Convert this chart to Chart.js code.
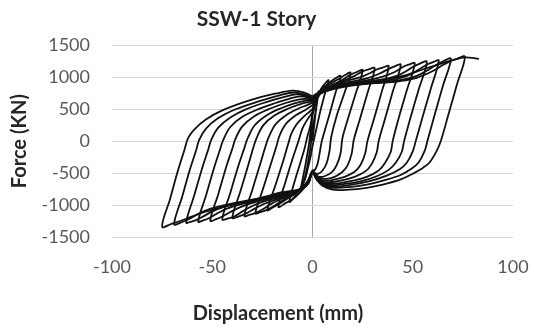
<!DOCTYPE html>
<html>
<head>
<meta charset="utf-8">
<script src="https://cdn.jsdelivr.net/npm/chart.js@4/dist/chart.umd.min.js"></script>
<style>
  html, body { margin: 0; padding: 0; background: #ffffff; }
  #wrap { width: 534px; height: 332px; }
</style>
</head>
<body>
<div id="wrap"><canvas id="c" width="534" height="332"></canvas></div>
<script>
// Cyclic test of SSW-1: displacement (mm) vs story force (kN), one array per loop.
const chartTitle = 'SSW-1 Story';
const xAxisTitle = 'Displacement (mm)';
const yAxisTitle = 'Force (KN)';
const xTicks = [-100, -50, 0, 50, 100];
const yTicks = [-1500, -1000, -500, 0, 500, 1000, 1500];

const cycle1 = [[0,0],[1.5,420],[3,780],[1.5,450],[0,200],[-1,-100],[-2.5,-380],[-4,-600],[-6,-780],[-4,-450],[-2,-100],[-1,150],[0,400]];
const cycle2 = [[0,400],[2,640],[4,800],[6,890],[8,950],[6,720],[4,480],[2,200],[0,-80],[-1,-250],[-2.5,-450],[-4,-620],[-6.5,-760],[-9,-870],[-11.5,-950],[-9,-640],[-6,-330],[-4,-120],[-2.5,80],[-1,250],[0,450]];
const cycle3 = [[0,450],[2,660],[4,790],[7,880],[10,950],[14,1020],[11.5,760],[8.5,420],[5.5,100],[4.5,-20],[3.5,-200],[2.5,-360],[1.2,-450],[0,-460],[-2,-600],[-4,-720],[-7,-830],[-10,-910],[-13.5,-970],[-17,-1030],[-13.5,-640],[-10,-280],[-7,0],[-5,200],[-2.5,340],[0,450]];
const cycle4 = [[0,450],[2,650],[5,800],[9,900],[13,970],[16,1030],[19,1070],[16,760],[12,390],[9.3,60],[8.5,-150],[7,-350],[5,-460],[3,-510],[1,-500],[0,-470],[-2,-610],[-5,-730],[-9,-830],[-13,-910],[-17,-990],[-20,-1040],[-22.5,-1080],[-18.5,-690],[-14.5,-300],[-12,-30],[-10.5,120],[-8,260],[-4.5,380],[-1.5,460],[0,500]];
const cycle5 = [[0,500],[2,650],[5,780],[10,880],[15,960],[19,1040],[22,1080],[25,1110],[21.5,740],[17.5,330],[14.9,40],[14,-190],[12,-380],[9.5,-490],[6,-550],[3.5,-560],[1.5,-530],[0,-470],[-2,-610],[-5,-720],[-10,-840],[-15,-930],[-19,-1010],[-23,-1080],[-26,-1110],[-28.5,-1130],[-24.5,-730],[-20.5,-330],[-18,-80],[-16.5,80],[-13.5,260],[-8.5,400],[-4,480],[0,560]];
const cycle6 = [[0,560],[2,680],[5,790],[10,880],[16,950],[21,1020],[25,1090],[28,1120],[31,1140],[27.5,760],[23.5,330],[20.6,20],[19.5,-200],[17.5,-380],[15,-480],[11,-560],[7,-590],[4,-580],[2,-540],[0,-470],[-2,-620],[-5,-730],[-10,-830],[-16,-910],[-21,-990],[-25,-1070],[-29,-1130],[-31.5,-1155],[-34,-1170],[-30,-760],[-26,-350],[-23.5,-90],[-22,50],[-18.5,260],[-13,410],[-7,510],[-3,560],[0,600]];
const cycle7 = [[0,600],[2,700],[5,790],[10,870],[17,940],[24,1000],[29,1070],[32,1120],[35,1150],[38,1170],[34.5,770],[30.5,330],[27.4,0],[26.3,-190],[24,-370],[21,-480],[16,-560],[11,-600],[7,-620],[4,-600],[2,-550],[0,-470],[-2,-630],[-5,-740],[-10,-820],[-17,-900],[-24,-980],[-29,-1060],[-33,-1130],[-37,-1180],[-40,-1200],[-36,-790],[-32,-370],[-29.5,-100],[-28,40],[-24.5,250],[-19,400],[-12,510],[-6,580],[-2,610],[0,620]];
const cycle8 = [[0,620],[2,710],[5,790],[10,860],[18,920],[27,980],[33,1050],[38,1130],[41,1170],[44,1195],[40,770],[36,330],[33,0],[32,-180],[29.5,-360],[26.5,-470],[21,-560],[15,-610],[10,-640],[6,-640],[3,-600],[0,-480],[-2,-640],[-5,-740],[-10,-810],[-17,-880],[-25,-950],[-31,-1030],[-36,-1120],[-39,-1180],[-42,-1210],[-45,-1225],[-41,-810],[-37,-390],[-34,-110],[-32.5,30],[-29,240],[-23,400],[-16,510],[-9,590],[-4,630],[0,630]];
const cycle9 = [[0,630],[2,710],[5,780],[10,850],[18,905],[27,950],[35,1010],[41,1080],[45,1160],[48,1195],[51,1215],[47,790],[43,360],[40,0],[39,-170],[36,-350],[33,-460],[27,-560],[20,-620],[13,-660],[8,-670],[4,-640],[2,-570],[0,-480],[-2,-640],[-5,-740],[-10,-800],[-18,-870],[-27,-940],[-35,-1020],[-41,-1110],[-45,-1180],[-48,-1220],[-51,-1245],[-47,-830],[-43,-400],[-40,-120],[-38.5,30],[-35,230],[-29,390],[-21,510],[-13,600],[-7,650],[-3,660],[0,640]];
const cycle10 = [[0,640],[2,710],[5,770],[10,840],[18,890],[27,930],[36,970],[42,1020],[46,1080],[50,1160],[53,1205],[57,1240],[53,810],[49,380],[45.7,0],[44.5,-170],[41.5,-340],[38,-450],[32,-550],[24,-630],[16,-670],[9,-690],[5,-660],[2,-570],[0,-480],[-2,-650],[-5,-740],[-10,-790],[-18,-860],[-27,-930],[-36,-990],[-43,-1060],[-48,-1140],[-52,-1210],[-54.5,-1240],[-57,-1260],[-53,-840],[-49,-410],[-46,-120],[-44.5,20],[-41,220],[-35,380],[-27,500],[-18,600],[-11,670],[-6,700],[-2,680],[0,650]];
const cycle11 = [[0,650],[2,710],[5,760],[10,830],[18,880],[27,915],[36,945],[44,990],[50,1060],[54,1140],[58,1210],[60.5,1240],[63,1260],[59,820],[55,390],[51.5,0],[50,-160],[47,-340],[43.5,-440],[37,-540],[28,-630],[18,-690],[10,-710],[5,-670],[2,-580],[0,-490],[-2,-650],[-5,-740],[-10,-790],[-18,-850],[-27,-910],[-36,-970],[-44,-1030],[-50,-1100],[-54,-1170],[-58,-1235],[-60.5,-1258],[-63,-1275],[-59,-850],[-55,-420],[-52,-130],[-50.5,20],[-47,210],[-41,370],[-33,500],[-23,610],[-14,690],[-8,730],[-3,700],[0,660]];
const cycle12 = [[0,660],[2,715],[5,760],[10,820],[18,870],[27,900],[36,925],[45,960],[52,1020],[57,1100],[61,1180],[65,1245],[69,1290],[65,860],[61,420],[57.3,0],[56,-150],[53,-330],[49.5,-430],[44,-530],[36,-610],[27,-680],[18,-720],[10,-730],[5,-690],[2,-590],[0,-490],[-2,-650],[-5,-740],[-10,-780],[-18,-840],[-27,-900],[-36,-950],[-45,-1010],[-52,-1070],[-57,-1140],[-61,-1210],[-65,-1265],[-69,-1300],[-65,-870],[-61,-430],[-58,-140],[-56.5,20],[-53,200],[-47,360],[-39,490],[-27,620],[-16,720],[-9,760],[-4,730],[0,680]];
const cycle13 = [[0,680],[2,720],[5,760],[10,810],[18,860],[27,895],[36,915],[44,940],[52,990],[59,1080],[64,1170],[68,1240],[72,1285],[76,1320],[72,880],[68,440],[64,0],[62,-150],[58.5,-330],[55,-420],[50,-510],[44,-600],[35,-680],[27,-730],[18,-760],[10,-760],[5,-700],[2,-600],[0,-500],[-2,-660],[-5,-750],[-10,-780],[-15,-800],[-25,-880],[-35,-960],[-47,-1050],[-55,-1120],[-61,-1190],[-66,-1250],[-70,-1290],[-75,-1339],[-71,-900],[-67,-450],[-64,-150],[-62,50],[-59,180],[-53,340],[-45,480],[-31,640],[-18,745],[-10,790],[-4,760],[0,700]];
const finalPush = [[0,700],[3,760],[8,820],[15,870],[25,920],[35,960],[45,1020],[55,1120],[63,1200],[70,1265],[76,1310],[83,1285]];

const loops = [cycle1, cycle2, cycle3, cycle4, cycle5, cycle6, cycle7, cycle8, cycle9, cycle10, cycle11, cycle12, cycle13, finalPush];

const datasets = loops.map((pts, i) => ({
  label: 'Loop ' + (i + 1),
  data: pts.map(p => ({ x: p[0], y: p[1] })),
  showLine: true,
  borderColor: '#111111',
  borderWidth: 1.8,
  pointRadius: 0,
  tension: 0.35,
  fill: false
}));

// Axis title below the plot, placed by hand
const xTitlePlugin = {
  id: 'xTitle',
  afterDraw(chart) {
    const ctx = chart.ctx;
    ctx.save();
    ctx.font = 'bold 20px Lato, "Open Sans", sans-serif';
    ctx.fillStyle = '#262626';
    ctx.textAlign = 'center';
    ctx.textBaseline = 'middle';
    ctx.fillText(xAxisTitle, 278, 314);
    ctx.restore();
  }
};

const tickFont = { family: 'Lato, "Open Sans", sans-serif', size: 18 };

new Chart(document.getElementById('c'), {
  type: 'scatter',
  data: { datasets },
  options: {
    responsive: false,
    animation: false,
    layout: { padding: { left: 0, right: 21, top: 0, bottom: 0 } },
    plugins: {
      legend: { display: false },
      tooltip: { enabled: false },
      title: {
        display: true,
        text: chartTitle,
        color: '#262626',
        font: { family: 'Lato, "Open Sans", sans-serif', size: 21, weight: 'bold' },
        padding: { top: 7, bottom: 13 }
      }
    },
    scales: {
      x: {
        type: 'linear',
        min: -100, max: 100,
        afterBuildTicks(scale) { scale.ticks = xTicks.map(v => ({ value: v })); },
        afterFit(scale) {
          scale.height = 95;
          scale.paddingLeft = 0;
          scale.paddingRight = 0;
        },
        grid: {
          drawTicks: false,
          color: ctx => (ctx.tick && ctx.tick.value === 0) ? '#a6a6a6' : 'rgba(0,0,0,0)',
          lineWidth: 1
        },
        border: { display: false },
        ticks: {
          padding: 19,
          color: '#595959',
          font: tickFont,
          maxRotation: 0,
          callback: v => String(v)
        }
      },
      y: {
        type: 'linear',
        min: -1500, max: 1500,
        afterBuildTicks(scale) { scale.ticks = yTicks.map(v => ({ value: v })); },
        afterFit(scale) { scale.width = 112; },
        grid: { drawTicks: false, color: '#d9d9d9', lineWidth: 1 },
        border: { display: false },
        ticks: {
          padding: 22,
          color: '#595959',
          font: tickFont,
          callback: v => String(v)
        },
        title: {
          display: true,
          text: yAxisTitle,
          color: '#262626',
          font: { family: 'Lato, "Open Sans", sans-serif', size: 20, weight: 'bold' },
          padding: { top: 8, bottom: 0 }
        }
      }
    }
  },
  plugins: [xTitlePlugin]
});
</script>
</body>
</html>
